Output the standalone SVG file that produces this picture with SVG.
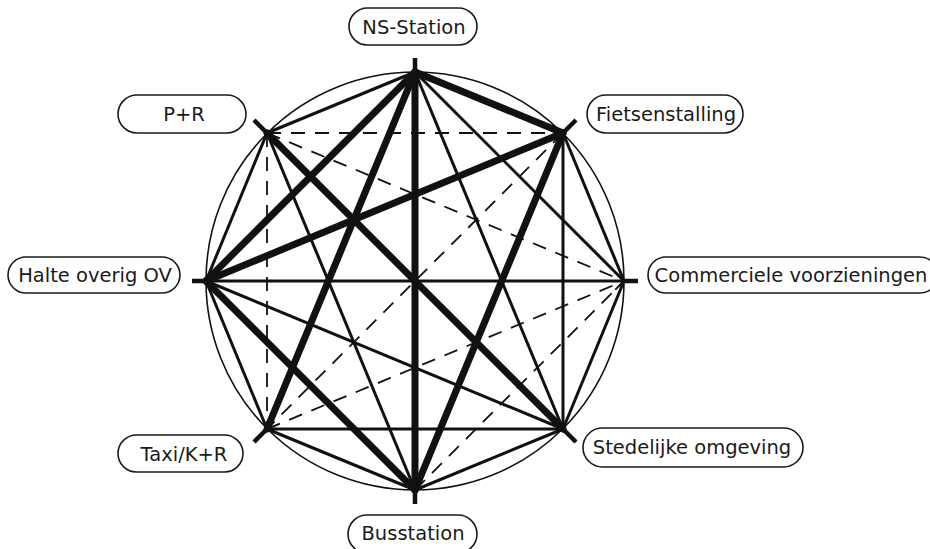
<svg xmlns="http://www.w3.org/2000/svg" width="930" height="549" viewBox="0 0 930 549">
<defs>
<style>
.box{fill:#fff;stroke:#1a1a1a;stroke-width:1.6}
.lbl{font-family:"DejaVu Sans","Liberation Sans",sans-serif;font-size:19.5px;fill:#1a1a1a;text-anchor:middle}
.thick{stroke:#111;stroke-width:7;stroke-linecap:round;fill:none}
.med{stroke:#111;stroke-width:3;fill:none}
.dash{stroke:#111;stroke-width:1.8;stroke-dasharray:14 10;fill:none}
.stub{stroke:#111;stroke-width:4.5;fill:none}
</style>
<marker id="arr" viewBox="0 0 12 10" refX="12" refY="5" markerWidth="12" markerHeight="10" markerUnits="userSpaceOnUse" orient="auto">
<path d="M0,0 L12,5 L0,10" fill="none" stroke="#111" stroke-width="1.8"/>
</marker>
</defs>
<rect width="930" height="549" fill="#fff"/>
<circle cx="415" cy="281" r="209" fill="none" stroke="#111" stroke-width="1.6"/>
<g id="connectors">
<line class="dash" x1="267" y1="133" x2="563" y2="133"/>
<line class="dash" x1="267" y1="133" x2="267" y2="429"/>
<line class="dash" x1="267" y1="133" x2="624" y2="281" marker-end="url(#arr)"/>
<line class="dash" x1="267" y1="429" x2="624" y2="281" marker-end="url(#arr)"/>
<line class="dash" x1="563" y1="133" x2="267" y2="429" marker-end="url(#arr)"/>
<line class="dash" x1="415" y1="490" x2="624" y2="281"/>
<line class="med" x1="415" y1="72" x2="624" y2="281"/>
<line class="med" x1="415" y1="72" x2="563" y2="429"/>
<line class="med" x1="415" y1="72" x2="267" y2="133"/>
<line class="med" x1="563" y1="133" x2="624" y2="281"/>
<line class="med" x1="563" y1="133" x2="563" y2="429"/>
<line class="med" x1="624" y1="281" x2="563" y2="429"/>
<line class="med" x1="624" y1="281" x2="206" y2="281"/>
<line class="med" x1="563" y1="429" x2="415" y2="490"/>
<line class="med" x1="563" y1="429" x2="267" y2="429"/>
<line class="med" x1="563" y1="429" x2="206" y2="281"/>
<line class="med" x1="415" y1="490" x2="267" y2="429"/>
<line class="med" x1="267" y1="429" x2="206" y2="281"/>
<line class="med" x1="206" y1="281" x2="267" y2="133"/>
<line class="med" x1="415" y1="490" x2="267" y2="133"/>
<line class="thick" x1="415" y1="72" x2="563" y2="133"/>
<line class="thick" x1="415" y1="72" x2="415" y2="490"/>
<line class="thick" x1="415" y1="72" x2="267" y2="429"/>
<line class="thick" x1="415" y1="72" x2="206" y2="281"/>
<line class="thick" x1="563" y1="133" x2="415" y2="490"/>
<line class="thick" x1="563" y1="133" x2="206" y2="281"/>
<line class="thick" x1="267" y1="133" x2="563" y2="429"/>
<line class="thick" x1="206" y1="281" x2="415" y2="490"/>
<line class="stub" x1="415" y1="58" x2="415" y2="74"/>
<line class="stub" x1="254" y1="120" x2="268" y2="134"/>
<line class="stub" x1="192" y1="281" x2="208" y2="281"/>
<line class="stub" x1="576" y1="120" x2="562" y2="134"/>
<line class="stub" x1="638" y1="281" x2="622" y2="281"/>
<line class="stub" x1="576" y1="442" x2="562" y2="428"/>
<line class="stub" x1="415" y1="504" x2="415" y2="488"/>
<line class="stub" x1="254" y1="442" x2="268" y2="428"/>
</g>
<g id="ns-station"><rect class="box" x="349" y="8" width="128" height="37" rx="18.5"/><text class="lbl" x="414" y="34">NS-Station</text></g>
<g id="p-r"><rect class="box" x="118" y="95" width="128" height="38" rx="19"/><text class="lbl" x="184" y="121">P+R</text></g>
<g id="fietsenstalling"><rect class="box" x="587" y="95" width="156" height="38" rx="19"/><text class="lbl" x="666" y="121">Fietsenstalling</text></g>
<g id="halte"><rect class="box" x="8" y="257" width="172" height="36" rx="18"/><text class="lbl" x="95" y="282">Halte overig OV</text></g>
<g id="commerciele"><rect class="box" x="648" y="257" width="290" height="36" rx="18"/><text class="lbl" x="791" y="282">Commerciele voorzieningen</text></g>
<g id="taxi"><rect class="box" x="118" y="435" width="125" height="37" rx="18.5"/><text class="lbl" x="184" y="461">Taxi/K+R</text></g>
<g id="stedelijke"><rect class="box" x="583" y="428" width="220" height="39" rx="19.5"/><text class="lbl" x="692" y="454">Stedelijke omgeving</text></g>
<g id="busstation"><rect class="box" x="348" y="515" width="129" height="38" rx="19"/><text class="lbl" x="413" y="540">Busstation</text></g>
</svg>
